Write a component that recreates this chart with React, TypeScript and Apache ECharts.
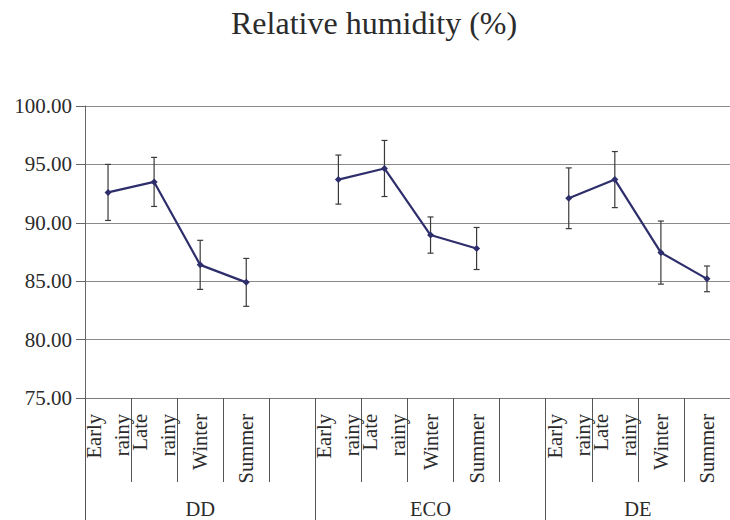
import React, { useEffect, useRef } from "react";
import * as echarts from "echarts";

// Seasons sampled at each site, and the sites themselves
const seasons = ["Early\nrainy", "Late\nrainy", "Winter", "Summer"];
const groups = ["DD", "ECO", "DE"];

// Mean relative humidity (%) per season, one array per site
const ddMean = [92.6, 93.5, 86.4, 84.9];
const ecoMean = [93.7, 94.65, 88.95, 87.8];
const deMean = [92.1, 93.7, 87.45, 85.2];

// Standard deviation (error bar half-length) per season
const ddSd = [2.4, 2.1, 2.1, 2.05];
const ecoSd = [2.1, 2.4, 1.55, 1.8];
const deSd = [2.6, 2.4, 2.7, 1.1];

// Value axis ticks
const yTicks = [75, 80, 85, 90, 95, 100];

const SERIF = "Liberation Serif";
const TEXT = "#2b2b2b";
const LINE = "#2e2e6c";

export default function App() {
  const ref = useRef<HTMLDivElement>(null);

  useEffect(() => {
    const chart = echarts.init(ref.current!, null, { renderer: "svg" });

    const means = [ddMean, ecoMean, deMean];
    const sds = [ddSd, ecoSd, deSd];

    // Category slots: each site's seasons followed by an empty spacer slot
    const catKeys: string[] = [];
    const catText: string[] = [];
    const lineData: (number | string)[] = [];
    const barData: number[][] = [];
    const groupStart: number[] = [];
    groups.forEach((g, gi) => {
      groupStart.push(catKeys.length);
      means[gi].forEach((v, i) => {
        const idx = catKeys.length;
        catKeys.push(g + "_" + i);
        catText.push(seasons[i]);
        lineData.push(v);
        barData.push([idx, v - sds[gi][i], v + sds[gi][i]]);
      });
      if (gi < groups.length - 1) {
        catKeys.push(g + "_gap");
        catText.push("");
        lineData.push("-");
      }
    });
    const nSlots = catKeys.length;
    const groupEnd = groupStart.map((s, i) => (i < groupStart.length - 1 ? groupStart[i + 1] : nSlots));
    const groupCenter = groupStart.map((s, i) => (s + groupEnd[i]) / 2);

    chart.setOption({
      animation: false,
      title: {
        text: "Relative humidity (%)",
        left: 226,
        top: 2,
        textStyle: { fontFamily: SERIF, fontSize: 32, fontWeight: "normal", color: TEXT },
      },
      grid: { left: 85, right: -9, top: 106, bottom: 122, containLabel: false },
      xAxis: [
        {
          type: "category",
          data: catKeys,
          boundaryGap: true,
          axisLine: { show: true, lineStyle: { color: "#7a7a7a", width: 1 } },
          axisTick: { show: true, length: 84, lineStyle: { color: "#555", width: 1 } },
          axisLabel: {
            interval: 0,
            rotate: 90,
            margin: 16,
            fontFamily: SERIF,
            fontSize: 20.5,
            lineHeight: 28,
            color: TEXT,
            formatter: (v: string) => catText[catKeys.indexOf(v)],
          },
          splitLine: { show: false },
        },
        {
          type: "value",
          min: 0,
          max: nSlots,
          position: "bottom",
          offset: 84,
          axisLine: { show: false },
          axisTick: {
            show: true,
            customValues: groupStart,
            length: 40,
            lineStyle: { color: "#555", width: 1 },
          },
          axisLabel: {
            customValues: groupCenter,
            margin: 16,
            fontFamily: SERIF,
            fontSize: 20.5,
            color: TEXT,
            formatter: (v: number) => {
              const i = groupCenter.findIndex((c) => Math.abs(c - v) < 1e-6);
              return i >= 0 ? groups[i] : "";
            },
          },
          splitLine: { show: false },
        },
      ],
      yAxis: {
        type: "value",
        min: yTicks[0],
        max: yTicks[yTicks.length - 1],
        interval: yTicks[1] - yTicks[0],
        axisLine: { show: true, lineStyle: { color: "#666", width: 1 } },
        axisTick: { show: true, length: 9, lineStyle: { color: "#666" } },
        axisLabel: {
          margin: 13,
          fontFamily: SERIF,
          fontSize: 21,
          color: TEXT,
          formatter: (v: number) => v.toFixed(2),
        },
        splitLine: { show: true, lineStyle: { color: "#8a8a8a", width: 1 } },
      },
      series: [
        {
          type: "custom",
          name: "sd",
          xAxisIndex: 0,
          yAxisIndex: 0,
          z: 1,
          encode: { x: 0, y: [1, 2] },
          data: barData,
          renderItem: (params: any, api: any) => {
            const x = api.value(0);
            const lo = api.coord([x, api.value(1)]);
            const hi = api.coord([x, api.value(2)]);
            const w = 3;
            const style = { stroke: "#3a3a3a", lineWidth: 1.2 };
            return {
              type: "group",
              children: [
                { type: "line", shape: { x1: lo[0], y1: lo[1], x2: hi[0], y2: hi[1] }, style },
                { type: "line", shape: { x1: lo[0] - w, y1: lo[1], x2: lo[0] + w, y2: lo[1] }, style },
                { type: "line", shape: { x1: hi[0] - w, y1: hi[1], x2: hi[0] + w, y2: hi[1] }, style },
              ],
            };
          },
        },
        {
          type: "line",
          name: "Relative humidity",
          xAxisIndex: 0,
          yAxisIndex: 0,
          z: 3,
          data: lineData,
          connectNulls: false,
          symbol: "diamond",
          symbolSize: 7,
          lineStyle: { color: LINE, width: 2.2 },
          itemStyle: { color: LINE },
        },
      ],
    });

    return () => chart.dispose();
  }, []);

  return (
    <div
      ref={ref}
      style={{ position: "absolute", left: 0, top: 0, width: 730, height: 520, background: "#fff" }}
    />
  );
}
